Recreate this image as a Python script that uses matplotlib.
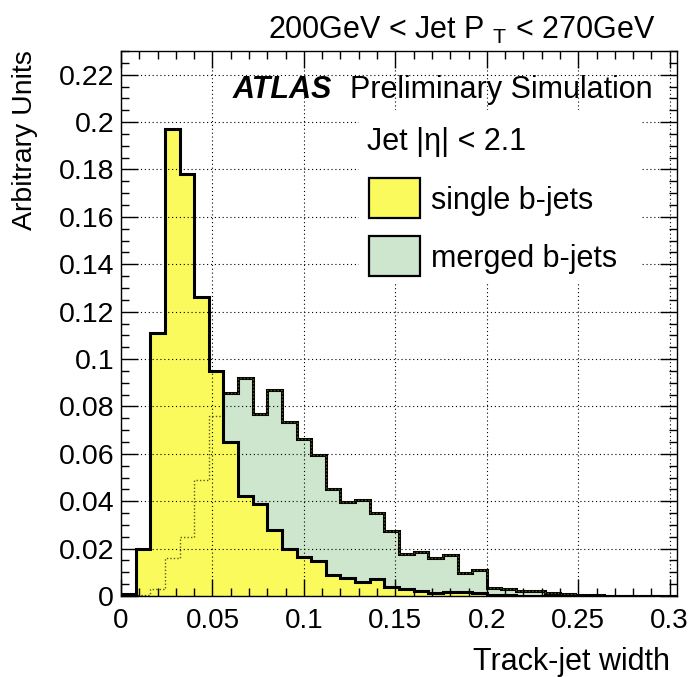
#!/usr/bin/env python3
"""ATLAS-style track-jet width comparison: single vs merged b-jets."""

import matplotlib
matplotlib.use("Agg")
import matplotlib.pyplot as plt
import numpy as np
from matplotlib.patches import Rectangle
from matplotlib.ticker import FuncFormatter, MultipleLocator

plt.rcParams["font.family"] = ["Liberation Sans", "DejaVu Sans"]
plt.rcParams["mathtext.fontset"] = "custom"
plt.rcParams["mathtext.rm"] = "Liberation Sans"

# 38 bins of width 0.008 from 0 to 0.304
BIN_WIDTH = 0.008
N_BINS = 38

SINGLE = [
    0.001, 0.020, 0.111, 0.197, 0.178, 0.126, 0.095, 0.065, 0.042, 0.039,
    0.028, 0.020, 0.0166, 0.0149, 0.0089, 0.0075, 0.0059, 0.0070, 0.0036, 0.0031,
    0.0022, 0.0014, 0.0017, 0.0017, 0.0014, 0.0005, 0.0003, 0.0002, 0.0001, 0.0001,
    0.0, 0.0, 0.0, 0.0, 0.0, 0.0, 0.0, 0.0,
]
MERGED = [
    0.0, 0.0005, 0.0028, 0.0159, 0.025, 0.049, 0.0758, 0.0855, 0.0922, 0.0768,
    0.0869, 0.0733, 0.0661, 0.0593, 0.045, 0.0396, 0.0405, 0.0349, 0.0275, 0.0176,
    0.0186, 0.0159, 0.0172, 0.0096, 0.0108, 0.0035, 0.0028, 0.0022, 0.0020, 0.0011,
    0.0010, 0.0004, 0.0003, 0.0002, 0.0002, 0.0001, 0.0001, 0.0,
]

YELLOW = "#fafa5c"
GREEN = "#cde6cd"

W, H = 693, 677


def fx(px):
    return px / W


def fy(py):
    return 1 - py / H


def main():
    edges = np.arange(N_BINS + 1) * BIN_WIDTH

    fig = plt.figure(figsize=(W / 100, H / 100), dpi=100)
    ax = fig.add_axes([fx(121), fy(596), fx(677) - fx(121), fy(51) - fy(596)])

    # merged first, single on top; merged outline shows through as dotted
    ax.stairs(MERGED, edges, fill=True, color=GREEN, zorder=1.0)
    ax.stairs(MERGED, edges, color="black", lw=2.2, zorder=1.1)
    ax.stairs(SINGLE, edges, fill=True, color=YELLOW, zorder=1.2)
    ax.stairs(MERGED, edges, color="#5a5a20", lw=1.0, ls=(0, (1, 1.5)), zorder=1.3)
    ax.stairs(SINGLE, edges, color="black", lw=2.2, zorder=1.4)

    ax.set_xlim(0, 0.304)
    ax.set_ylim(0, 0.23)
    ax.xaxis.set_major_locator(MultipleLocator(0.05))
    ax.xaxis.set_minor_locator(MultipleLocator(0.01))
    ax.yaxis.set_major_locator(MultipleLocator(0.02))
    ax.yaxis.set_minor_locator(MultipleLocator(0.005))
    fmt = FuncFormatter(lambda v, _: f"{v:g}")
    ax.xaxis.set_major_formatter(fmt)
    ax.yaxis.set_major_formatter(fmt)

    ax.tick_params(which="both", direction="in", top=True, right=True, width=1.0)
    ax.tick_params(which="major", length=12)
    ax.tick_params(which="minor", length=6)
    ax.tick_params(axis="x", pad=9, labelsize=20)
    ax.tick_params(axis="y", pad=5, labelsize=20.5)
    for s in ax.spines.values():
        s.set_linewidth(1.0)

    ax.set_axisbelow(False)
    ax.grid(True, which="major", color="black", lw=0.8, ls=(0, (1, 2.5)))

    # white legend box covering the grid
    ax.add_patch(Rectangle((0.130, 0.132), 0.154, 0.073, facecolor="white",
                           edgecolor="none", zorder=3))

    fs = 22
    fig.text(fx(655), fy(39), r"200GeV < Jet P $_{\mathrm{T}}$ < 270GeV",
             ha="right", va="baseline", fontsize=fs)
    fig.text(fx(233), fy(98), "ATLAS", fontweight="bold", fontstyle="italic",
             ha="left", va="baseline", fontsize=fs, zorder=5)
    fig.text(fx(350), fy(98), "Preliminary Simulation",
             ha="left", va="baseline", fontsize=fs, zorder=5)
    fig.text(fx(367), fy(150), "Jet |η| < 2.1",
             ha="left", va="baseline", fontsize=fs, zorder=5)

    for (y0, y1), color, label in [((178, 218), YELLOW, "single b-jets"),
                                   ((236, 276), GREEN, "merged b-jets")]:
        fig.patches.append(Rectangle((fx(369), fy(y1)), fx(420) - fx(369),
                                     fy(y0) - fy(y1), facecolor=color,
                                     edgecolor="black", lw=1.6,
                                     transform=fig.transFigure, figure=fig,
                                     zorder=5))
        fig.text(fx(431), fy((y0 + y1) / 2), label, ha="left",
                 va="center_baseline", fontsize=fs, zorder=5)

    fig.text(fx(670), fy(670), "Track-jet width", ha="right", va="baseline",
             fontsize=fs)
    fig.text(fx(25), fy(50), "Arbitrary Units", rotation=90, ha="center",
             va="top", fontsize=20.5)

    fig.savefig("out.png", dpi=100)


if __name__ == "__main__":
    main()
